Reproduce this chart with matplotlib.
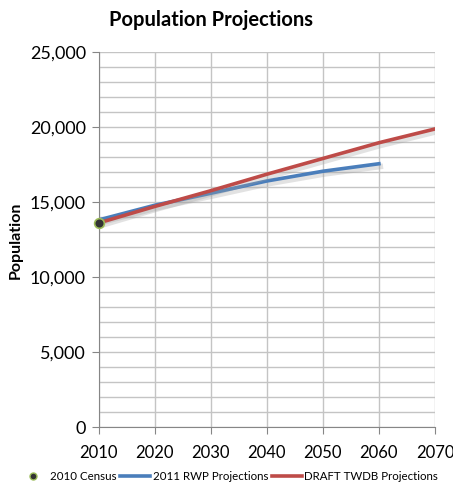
import matplotlib
matplotlib.use("Agg")
import matplotlib.pyplot as plt
import matplotlib.patheffects as pe
from matplotlib.ticker import MultipleLocator, FuncFormatter
from matplotlib.lines import Line2D

plt.rcParams['font.family'] = ['Lato', 'DejaVu Sans']

census_years = [2010]
census_values = [13620]
rwp_years = [2010, 2020, 2030, 2040, 2050, 2060]
rwp_values = [13800, 14780, 15580, 16400, 17050, 17550]
twdb_years = [2010, 2020, 2030, 2040, 2050, 2060, 2070]
twdb_values = [13600, 14700, 15750, 16850, 17900, 18950, 19870]

fig = plt.figure(figsize=(4.53, 4.87), dpi=100)
ax = fig.add_axes([98.5/453, 1-427/487, (435-98.5)/453, (427-52)/487])

shadow = [pe.SimpleLineShadow(offset=(1, -2), shadow_color='#a0a0a0', alpha=0.3, linewidth=4), pe.Normal()]
ax.plot(rwp_years, rwp_values, color='#4a7ebb', lw=2.6, path_effects=shadow, zorder=3)
ax.plot(twdb_years, twdb_values, color='#be4b48', lw=2.6, path_effects=shadow, zorder=4)
ax.plot(census_years, census_values, 'o', color='#333333', markeredgecolor='#9bbb59',
        markeredgewidth=1.2, markersize=7, zorder=5, clip_on=False)

ax.set_xlim(2010, 2070)
ax.set_ylim(0, 25000)
ax.xaxis.set_major_locator(MultipleLocator(10))
ax.yaxis.set_major_locator(MultipleLocator(5000))
ax.yaxis.set_minor_locator(MultipleLocator(1000))
ax.yaxis.set_major_formatter(FuncFormatter(lambda v, p: f"{int(v):,}"))
ax.grid(True, which='both', axis='y', color='#c4c4c4', lw=1)
ax.grid(True, which='major', axis='x', color='#c4c4c4', lw=1)
ax.set_axisbelow(True)
for s in ['top', 'right']:
    ax.spines[s].set_visible(False)
for s in ['left', 'bottom']:
    ax.spines[s].set_color('#868686')
ax.tick_params(axis='both', which='major', direction='out', length=5, color='#868686',
               labelsize=13, pad=4)
ax.tick_params(axis='y', which='minor', length=0)
ax.tick_params(axis='x', labelsize=12, pad=8)

fig.text(211/453, 1-20/487, 'Population Projections', ha='center', va='center',
         fontsize=14.5, fontweight='bold')
fig.text(16/453, 1-240/487, 'Population', ha='center', va='center', rotation=90,
         fontsize=11.5, fontweight='bold')

handles = [
    Line2D([], [], ls='none', marker='o', color='#333333', markeredgecolor='#9bbb59', markersize=5),
    Line2D([], [], color='#4a7ebb', lw=2.6),
    Line2D([], [], color='#be4b48', lw=2.6),
]
labels = ['2010 Census', '2011 RWP Projections', 'DRAFT TWDB Projections']
fig.legend(handles, labels, loc='center', bbox_to_anchor=(228/453, 1-477/487), ncol=3,
           frameon=False, fontsize=8.3, handlelength=2.6, handletextpad=0.2, columnspacing=0.3)

fig.savefig('out.png', dpi=100)
